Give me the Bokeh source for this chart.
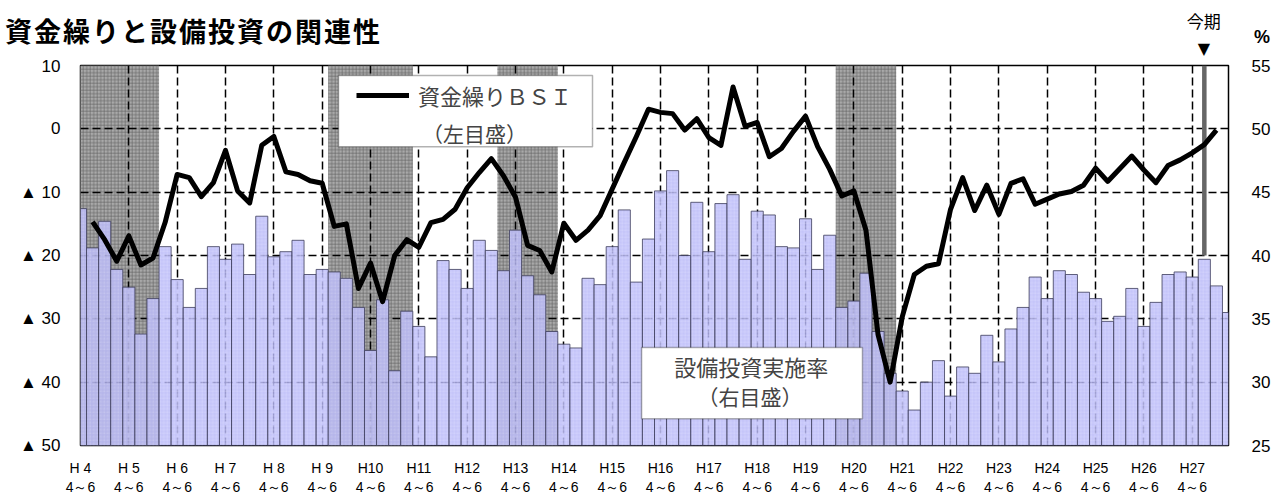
from bokeh.plotting import figure
from bokeh.layouts import column
from bokeh.models import (Range1d, LinearAxis, FixedTicker, Label, BoxAnnotation,
                          Legend, LegendItem, ColumnDataSource, Div)
from bokeh.embed import file_html
from bokeh.resources import INLINE

# ---------------- data ----------------
fiscal_years = [f"H{n:>2}" if n < 10 else f"H{n}" for n in range(4, 28)]
quarters = ["4～6", "7～9", "10～12", "1～3"]
quarter_labels = [f"{fy} {q}" for fy in fiscal_years for q in quarters]  # 96 quarters

# 設備投資実施率 (%) right axis
capex_rate = [43.7, 40.6, 42.7, 38.9, 37.5, 33.8, 36.6, 40.7, 38.1, 35.9,
              37.4, 40.7, 39.7, 40.9, 38.5, 43.1, 39.9, 40.3, 41.2, 38.5,
              38.9, 38.7, 38.2, 35.9, 32.5, 36.5, 30.9, 35.6, 34.4, 32.0,
              39.6, 38.9, 37.4, 41.2, 40.4, 38.8, 42.0, 38.4, 36.9, 34.0,
              33.0, 32.7, 38.2, 37.7, 40.7, 43.6, 37.9, 41.3, 45.1, 46.7,
              40.0, 44.2, 40.3, 44.1, 44.8, 39.7, 43.5, 43.2, 40.7, 40.6,
              42.9, 38.9, 41.6, 35.9, 36.4, 38.6, 34.0, 30.7, 29.3, 27.8,
              30.0, 31.7, 28.9, 31.2, 30.7, 33.7, 31.6, 34.2, 35.9, 38.3,
              36.6, 38.8, 38.5, 37.1, 36.6, 34.8, 35.2, 37.4, 34.4, 36.3,
              38.5, 38.7, 38.3, 39.7, 37.6, 35.5]

# 資金繰りBSI left axis (None = no value)
bsi = [None, -14.7, -17.5, -20.9, -16.9, -21.5, -20.4, -14.8, -7.2, -7.7,
       -10.7, -8.5, -3.4, -9.8, -11.7, -2.6, -1.2, -6.8, -7.2, -8.2,
       -8.6, -15.4, -15.0, -25.2, -21.2, -27.3, -20.0, -17.5, -18.7, -14.8,
       -14.3, -12.7, -9.3, -6.9, -4.7, -7.4, -10.8, -18.4, -19.2, -22.6,
       -14.9, -17.6, -16.0, -13.7, -9.5, -5.3, -1.2, 3.1, 2.6, 2.4,
       -0.2, 1.6, -1.4, -2.6, 6.6, 0.4, 1.0, -4.4, -3.1, -0.4,
       2.0, -2.8, -6.4, -10.6, -9.8, -16.0, -32.5, -40.0, -29.7, -23.0,
       -21.7, -21.3, -12.7, -7.7, -12.9, -8.9, -13.5, -8.6, -7.9, -11.9,
       -11.1, -10.3, -9.9, -8.9, -6.2, -8.3, -6.3, -4.3, -6.5, -8.5,
       -5.8, -4.9, -3.8, -2.5, -0.2, None]

# recession periods (shaded)
recessions = [("H 4 4～6", "H 5 10～12"), ("H 9 7～9", "H10 1～3"),
              ("H12 1～3", "H13 1～3"), ("H19 1～3", "H20 1～3")]

current_quarter = "H27 7～9"
current_marker_from = 40

left_ticks = [-50, -40, -30, -20, -10, 0, 10]
left_tick_labels = ["▲ 50", "▲ 40", "▲ 30", "▲ 20", "▲ 10", "0", "10"]
right_ticks = [25, 30, 35, 40, 45, 50, 55]

title_text = "資金繰りと設備投資の関連性"
jp = "Noto Sans CJK JP"
num_font = "Liberation Sans"

# ---------------- geometry ----------------
W, H = 1274, 497
HDR = 56
FR_L, FR_R, FR_T, FR_B = 80, 46, 65, 48
n = len(quarter_labels)
px_per_q = (W - FR_L - FR_R) / (n - 1)
xs = list(range(n))
qi = {q: i for i, q in enumerate(quarter_labels)}
ci = qi[current_quarter]
cur_px = FR_L + ci * px_per_q

# ---------------- header (title, 今期 marker, unit) ----------------
def span(left, top, text, size, extra=""):
    return (f'<span style="position:absolute;left:{left:.1f}px;top:{top}px;'
            f'white-space:nowrap;line-height:1;font-size:{size}px;{extra}">{text}</span>')

header_html = (
    f'<div style="position:relative;width:{W}px;height:{HDR}px;'
    f'font-family:\'{jp}\';color:black;">'
    + span(5, 30, title_text, 27, "font-weight:bold;letter-spacing:2px;transform:translateY(-50%);")
    + span(cur_px, 20, "今期", 17, "transform:translate(-50%,-50%);")
    + span(cur_px, 49, "▼", 16, "font-family:'DejaVu Sans';transform:translate(-50%,-50%);")
    + span(1262, 37, "%", 18, f"font-family:'{num_font}';font-weight:bold;transform:translate(-50%,-50%);")
    + '</div>')
header = Div(text=header_html, width=W, height=HDR, margin=0)

# ---------------- main chart ----------------
p = figure(width=W, height=H - HDR, output_backend="svg", toolbar_location=None,
           x_range=Range1d(0, n - 1), y_range=Range1d(-50, 10),
           min_border_left=FR_L, min_border_right=FR_R, min_border_top=FR_T - HDR,
           min_border_bottom=FR_B, margin=0)
p.extra_y_ranges = {"right": Range1d(25, 55)}
p.background_fill_color = "white"
p.border_fill_color = "white"
p.outline_line_color = "black"
p.outline_line_width = 1.5

# shading
rec_src = ColumnDataSource(dict(
    left=[qi[a] - 0.5 for a, b in recessions],
    right=[qi[b] + 0.5 for a, b in recessions],
    bottom=[-50] * len(recessions), top=[10] * len(recessions)))
p.quad(left="left", right="right", bottom="bottom", top="top", source=rec_src,
       fill_color="#a9a9a9", line_color=None, hatch_pattern="+",
       hatch_color="#6a6a6a", hatch_scale=3.5, hatch_weight=0.7, level="image")

# bars
bar_src = ColumnDataSource(dict(x=xs, top=capex_rate, bottom=[25] * n))
p.vbar(x="x", top="top", bottom="bottom", width=1.0, source=bar_src,
       y_range_name="right", fill_color="#b8b8f8", fill_alpha=0.82,
       line_color="#3c3c5a", line_width=0.8, hatch_pattern="+",
       hatch_color="#dadaff", hatch_scale=3.5, hatch_weight=0.6, hatch_alpha=0.6)

# current period marker
p.segment(x0=[ci], x1=[ci], y0=[current_marker_from], y1=[55],
          y_range_name="right", line_color="#666666", line_width=4.5)

# BSI line
bsi_vals = [float("nan") if v is None else v for v in bsi]
line_r = p.line(xs, bsi_vals, line_color="black", line_width=5, line_join="round")

# axes
p.xaxis.ticker = FixedTicker(ticks=list(range(0, n, 4)))
p.xaxis.major_label_overrides = {4 * i: f"{fy}\n4～6" for i, fy in enumerate(fiscal_years)}
p.xaxis.major_label_text_font = num_font
p.xaxis.major_label_text_font_size = "14px"
p.xaxis.major_label_standoff = 8
p.yaxis.ticker = FixedTicker(ticks=left_ticks)
p.yaxis.major_label_overrides = dict(zip(left_ticks, left_tick_labels))
p.yaxis.major_label_standoff = 14

right_axis = LinearAxis(y_range_name="right", ticker=FixedTicker(ticks=right_ticks))
right_axis.major_label_standoff = 17
p.add_layout(right_axis, "right")

for ax in [p.xaxis[0], p.yaxis[0], right_axis]:
    ax.axis_line_color = None
    ax.major_tick_line_color = None
    ax.minor_tick_line_color = None
    ax.major_label_text_color = "black"
for ax in [p.yaxis[0], right_axis]:
    ax.major_label_text_font = num_font
    ax.major_label_text_font_size = "17px"

# grids
p.xgrid.ticker = FixedTicker(ticks=list(range(4, n, 4)))
for g in [p.xgrid[0], p.ygrid[0]]:
    g.grid_line_color = "black"
    g.grid_line_dash = "8 4"
    g.grid_line_width = 1.5

# legend box 1
p.add_layout(BoxAnnotation(left=21.35, right=42.37, top=8.44, bottom=-2.81,
                           fill_color="white", fill_alpha=1.0,
                           line_color="black", line_width=1.5))
legend = Legend(items=[LegendItem(label="資金繰りＢＳＩ", renderers=[line_r])],
                location=(276, 334), glyph_width=53, glyph_height=22,
                label_standoff=9, padding=0, margin=0, spacing=0,
                border_line_color=None, background_fill_alpha=0,
                label_text_font=jp, label_text_font_size="22px")
p.add_layout(legend)
p.add_layout(Label(x=32.6, y=-0.6, text="（左目盛）", text_align="center",
                   text_baseline="middle", text_font=jp, text_font_size="21px"))

# legend box 2
p.add_layout(BoxAnnotation(left=46.43, right=64.71, top=-34.53, bottom=-45.78,
                           fill_color="white", fill_alpha=1.0,
                           line_color="black", line_width=1.5))
p.add_layout(Label(x=55.5, y=-37.4, text="設備投資実施率", text_align="center",
                   text_baseline="middle", text_font=jp, text_font_size="22px"))
p.add_layout(Label(x=55.4, y=-42.2, text="（右目盛）", text_align="center",
                   text_baseline="middle", text_font=jp, text_font_size="21px"))

layout = column(header, p, spacing=0, margin=0)
open("out.html", "w").write(file_html(layout, INLINE))
